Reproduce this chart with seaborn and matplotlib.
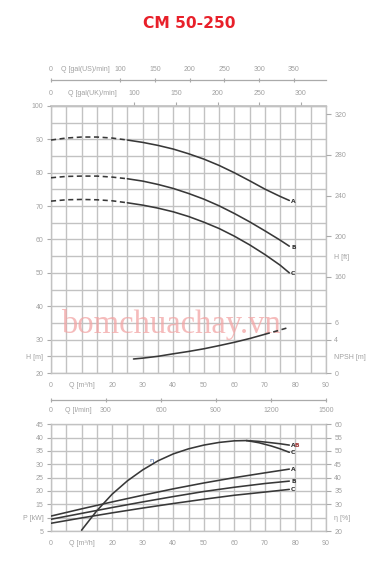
import matplotlib
matplotlib.use("Agg")
import matplotlib.pyplot as plt
import numpy as np
import pandas as pd
import seaborn as sns

title = "CM 50-250"

# Head curves H [m] vs Q [m3/h]
q_dash = [0, 5, 10, 15, 20, 25]
h_a_dash = [89.8, 90.4, 90.7, 90.7, 90.4, 89.8]
h_b_dash = [78.5, 78.9, 79.0, 79.0, 78.7, 78.2]
h_c_dash = [71.5, 71.9, 72.0, 71.9, 71.6, 71.0]
q_solid = [25, 30, 35, 40, 45, 50, 55, 60, 65, 70, 75, 78]
h_a = [89.8, 89.1, 88.2, 87.1, 85.7, 84.1, 82.2, 80.0, 77.6, 75.1, 72.9, 71.7]
h_b = [78.2, 77.5, 76.5, 75.3, 73.8, 72.1, 70.1, 67.8, 65.3, 62.6, 59.8, 58.0]
h_c = [71.0, 70.3, 69.4, 68.3, 66.9, 65.2, 63.3, 61.0, 58.4, 55.5, 52.3, 50.0]

# NPSH [m]
q_npsh = [27, 30, 35, 40, 45, 50, 55, 60, 65, 70]
npsh = [1.68, 1.78, 2.0, 2.3, 2.58, 2.9, 3.28, 3.68, 4.13, 4.64]
q_npsh_dash = [70, 74, 78]
npsh_dash = [4.64, 5.05, 5.48]

# Power P [kW]
q_pow = [0, 10, 20, 30, 40, 50, 60, 70, 78]
p_a = [10.6, 13.3, 15.9, 18.4, 20.8, 23.0, 25.0, 26.8, 28.2]
p_b = [9.4, 11.6, 13.8, 15.9, 17.9, 19.8, 21.4, 22.8, 23.7]
p_c = [7.9, 9.9, 11.8, 13.6, 15.3, 16.9, 18.4, 19.6, 20.6]

# Efficiency eta [%]
q_eta = [10, 15, 20, 25, 30, 35, 40, 45, 50, 55, 60, 64]
eta = [20.3, 27.6, 33.8, 38.8, 42.9, 46.3, 48.9, 50.8, 52.2, 53.2, 53.8, 53.9]
q_eta_end = [64, 68, 72, 75, 78]
eta_ab = [53.9, 53.6, 53.1, 52.7, 52.2]
eta_c = [53.9, 53.1, 51.9, 50.8, 49.5]

# Tick labels
h_m_ticks = [20, 25, 30, 40, 50, 60, 70, 80, 90, 100]
h_m_labels = ["20", "H [m]", "30", "40", "50", "60", "70", "80", "90", "100"]
h_ft_ticks = [160, 180, 200, 240, 280, 320]
h_ft_labels = ["160", "H [ft]", "200", "240", "280", "320"]
npsh_ticks = [0, 2, 4, 6]
npsh_labels = ["0", "NPSH [m]", "4", "6"]
q_ticks = [0, 10, 20, 30, 40, 50, 60, 70, 80, 90]
q_labels = ["0", "Q [m\u00b3/h]", "20", "30", "40", "50", "60", "70", "80", "90"]
us_ticks = [0, 50, 100, 150, 200, 250, 300, 350]
us_labels = ["0", "Q [gal(US)/min]", "100", "150", "200", "250", "300", "350"]
uk_ticks = [0, 50, 100, 150, 200, 250, 300]
uk_labels = ["0", "Q [gal(UK)/min]", "100", "150", "200", "250", "300"]
lmin_ticks = [0, 150, 300, 600, 900, 1200, 1500]
lmin_labels = ["0", "Q [l/min]", "300", "600", "900", "1200", "1500"]
p_ticks = [5, 10, 15, 20, 25, 30, 35, 40, 45]
p_labels = ["5", "P [kW]", "15", "20", "25", "30", "35", "40", "45"]
eta_ticks = [20, 25, 30, 35, 40, 45, 50, 55, 60]
eta_labels = ["20", "\u03b7 [%]", "30", "35", "40", "45", "50", "55", "60"]

sns.set_theme(style="white")
plt.rcParams["font.family"] = ["Liberation Sans", "DejaVu Sans"]

GRID = "#c2c2c2"
TXT = "#a0a0a0"
LINE = "#383838"
FS = 5.0

W_PX, H_PX = 371, 568
fig = plt.figure(figsize=(W_PX / 100, H_PX / 100), dpi=100)
fig.patch.set_facecolor("white")

def fx(px):
    return px / W_PX

def fy(py):
    return 1 - py / H_PX

L = fx(51)
W = fx(326) - fx(51)
ax1 = fig.add_axes([L, fy(373), W, fy(106) - fy(373)])
ax2 = fig.add_axes([L, fy(531), W, fy(424.3) - fy(531)])

M3H_TO_US = 4.4029
M3H_TO_UK = 3.6662
M3H_TO_LMIN = 16.6667
M_TO_FT = 3.28084


def style_axes(ax, ymin, ymax):
    ax.set_xlim(0, 90)
    ax.set_ylim(ymin, ymax)
    ax.set_xticks(np.arange(0, 91, 5), minor=True)
    ax.set_yticks(np.arange(ymin, ymax + 0.1, 5), minor=True)
    ax.grid(which="both", color=GRID, lw=1.0)
    ax.set_axisbelow(True)
    for s in ax.spines.values():
        s.set_color(GRID)
        s.set_linewidth(1.0)
    ax.set_xticks(q_ticks)
    ax.set_xticklabels(q_labels)
    ax.tick_params(axis="x", which="both", length=0, pad=6.5, labelsize=FS,
                   labelcolor=TXT)
    ax.tick_params(axis="y", which="minor", length=0)
    ax.tick_params(axis="y", which="major", length=3, width=0.8, color="#aaaaaa",
                   pad=2.5, labelsize=FS, labelcolor=TXT, direction="out")
    ax.set_xlabel("")
    ax.set_ylabel("")


# ---------------- top chart ----------------
style_axes(ax1, 20, 100)
ax1.set_yticks(h_m_ticks)
ax1.set_yticklabels(h_m_labels)
ax1.yaxis.get_major_ticks()[1].tick1line.set_visible(False)

df_dash = pd.DataFrame({"Q": q_dash, "A": h_a_dash, "B": h_b_dash, "C": h_c_dash})
df_sol = pd.DataFrame({"Q": q_solid, "A": h_a, "B": h_b, "C": h_c})
for col in ["A", "B", "C"]:
    sns.lineplot(data=df_dash, x="Q", y=col, ax=ax1, color=LINE, lw=1.15,
                 linestyle=(0, (3.2, 2.2)), zorder=5)
    sns.lineplot(data=df_sol, x="Q", y=col, ax=ax1, color=LINE, lw=1.15, zorder=5)
    ax1.text(df_sol["Q"].iloc[-1] + 0.6, df_sol[col].iloc[-1] - 0.3, col,
             fontsize=4.3, fontweight="bold", color="#333333", ha="left",
             va="center", family=["DejaVu Sans"], zorder=6)
ax1.set_xlabel("")
ax1.set_ylabel("")

# watermark
ax1.text(39.4, 34.6, "bomchuachay.vn", fontsize=23.5, color="#f2a4a4", alpha=0.75,
         ha="center", va="center", family=["Liberation Serif", "DejaVu Serif"],
         zorder=1)

# right: H [ft]
ax_ft = ax1.twinx()
ax_ft.set_ylim(20 * M_TO_FT, 100 * M_TO_FT)
ax_ft.set_yticks(h_ft_ticks)
ax_ft.set_yticklabels(h_ft_labels)
ax_ft.yaxis.get_major_ticks()[1].tick2line.set_visible(False)
ax_ft.tick_params(axis="y", length=3.5, width=0.8, color="#aaaaaa", pad=2.5,
                  labelsize=FS, labelcolor=TXT, direction="out")
for s in ax_ft.spines.values():
    s.set_visible(False)
ax_ft.grid(False)

# right: NPSH [m]
ax_np = ax1.twinx()
ax_np.set_ylim(0, 32)
df_np = pd.DataFrame({"Q": q_npsh, "NPSH": npsh})
df_np_d = pd.DataFrame({"Q": q_npsh_dash, "NPSH": npsh_dash})
sns.lineplot(data=df_np, x="Q", y="NPSH", ax=ax_np, color=LINE, lw=1.15)
sns.lineplot(data=df_np_d, x="Q", y="NPSH", ax=ax_np, color=LINE, lw=1.15,
             linestyle=(0, (3.2, 2.2)))
ax_np.set_xlim(0, 90)
ax_np.set_yticks(npsh_ticks)
ax_np.set_yticklabels(npsh_labels)
ax_np.yaxis.get_major_ticks()[1].tick2line.set_visible(False)
ax_np.tick_params(axis="y", length=3.5, width=0.8, color="#aaaaaa", pad=2.5,
                  labelsize=FS, labelcolor=TXT, direction="out")
for s in ax_np.spines.values():
    s.set_visible(False)
ax_np.grid(False)
ax_np.set_xlabel("")
ax_np.set_ylabel("")

# top: UK gallons (on top spine)
sec_uk = ax1.secondary_xaxis("top", functions=(lambda q: q * M3H_TO_UK,
                                               lambda g: g / M3H_TO_UK))
sec_uk.set_xticks(uk_ticks)
sec_uk.set_xticklabels(uk_labels)
sec_uk.tick_params(length=3, width=0.8, color="#aaaaaa", pad=3.5, labelsize=FS,
                   labelcolor=TXT, direction="out")
sec_uk.spines["top"].set_color(GRID)
for i in (0, 1):
    sec_uk.xaxis.get_major_ticks()[i].tick2line.set_visible(False)

# top: US gallons (separate line above)
sec_us = ax1.secondary_xaxis((373 - 80) / (373 - 106),
                             functions=(lambda q: q * M3H_TO_US,
                                        lambda g: g / M3H_TO_US))
sec_us.set_xticks(us_ticks)
sec_us.set_xticklabels(us_labels)
sec_us.tick_params(length=3, width=0.8, color="#aaaaaa", pad=3.5, labelsize=FS,
                   labelcolor=TXT, direction="inout")
sec_us.spines["top"].set_color("#aaaaaa")
sec_us.spines["top"].set_linewidth(0.9)
sec_us.xaxis.get_major_ticks()[1].tick2line.set_visible(False)

# between charts: l/min
sec_l = ax1.secondary_xaxis(-(400 - 373) / (373 - 106),
                            functions=(lambda q: q * M3H_TO_LMIN,
                                       lambda l: l / M3H_TO_LMIN))
sec_l.set_xticks(lmin_ticks)
sec_l.set_xticklabels(lmin_labels)
sec_l.tick_params(length=3, width=0.8, color="#aaaaaa", pad=3.5, labelsize=FS,
                  labelcolor=TXT, direction="inout")
sec_l.spines["bottom"].set_color("#aaaaaa")
sec_l.spines["bottom"].set_linewidth(0.9)
sec_l.xaxis.get_major_ticks()[1].tick1line.set_visible(False)

# ---------------- bottom chart ----------------
style_axes(ax2, 5, 45)
ax2.set_yticks(p_ticks)
ax2.set_yticklabels(p_labels)
ax2.yaxis.get_major_ticks()[1].tick1line.set_visible(False)

df_p = pd.DataFrame({"Q": q_pow, "A": p_a, "B": p_b, "C": p_c})
for col in ["A", "B", "C"]:
    sns.lineplot(data=df_p, x="Q", y=col, ax=ax2, color=LINE, lw=1.15, zorder=5)
    ax2.text(df_p["Q"].iloc[-1] + 0.6, df_p[col].iloc[-1], col, fontsize=4.3,
             fontweight="bold", color="#333333", ha="left", va="center",
             family=["DejaVu Sans"], zorder=6)
ax2.set_xlabel("")
ax2.set_ylabel("")

ax_eta = ax2.twinx()
ax_eta.set_ylim(20, 60)
df_eta = pd.DataFrame({"Q": q_eta, "eta": eta})
df_eta_end = pd.DataFrame({"Q": q_eta_end, "AB": eta_ab, "C": eta_c})
sns.lineplot(data=df_eta, x="Q", y="eta", ax=ax_eta, color=LINE, lw=1.15)
sns.lineplot(data=df_eta_end, x="Q", y="AB", ax=ax_eta, color=LINE, lw=1.15)
sns.lineplot(data=df_eta_end, x="Q", y="C", ax=ax_eta, color=LINE, lw=1.15)
ax_eta.text(q_eta_end[-1] + 0.6, eta_ab[-1], "A", fontsize=4.3, fontweight="bold",
            color="#333333", ha="left", va="center", family=["DejaVu Sans"])
ax_eta.text(q_eta_end[-1] + 1.8, eta_ab[-1], "B", fontsize=4.3, fontweight="bold",
            color="#a33a3a", ha="left", va="center", family=["DejaVu Sans"])
ax_eta.text(q_eta_end[-1] + 0.6, eta_c[-1], "C", fontsize=4.3, fontweight="bold",
            color="#333333", ha="left", va="center", family=["DejaVu Sans"])
ax_eta.text(33.0, 46.4, "\u03b7", fontsize=4.6, color="#3a5fa0", ha="center",
            va="center", family=["DejaVu Sans"])
ax_eta.set_xlim(0, 90)
ax_eta.set_yticks(eta_ticks)
ax_eta.set_yticklabels(eta_labels)
ax_eta.yaxis.get_major_ticks()[1].tick2line.set_visible(False)
ax_eta.tick_params(axis="y", length=3.5, width=0.8, color="#aaaaaa", pad=2.5,
                   labelsize=FS, labelcolor=TXT, direction="out")
for s in ax_eta.spines.values():
    s.set_visible(False)
ax_eta.grid(False)
ax_eta.set_xlabel("")
ax_eta.set_ylabel("")

# title
fig.text(fx(189.5), fy(23), title, fontsize=11.2, fontweight="heavy",
         color="#e8202a", ha="center", va="center", family=["DejaVu Sans"])

fig.savefig("out.png", dpi=100, facecolor="white")
